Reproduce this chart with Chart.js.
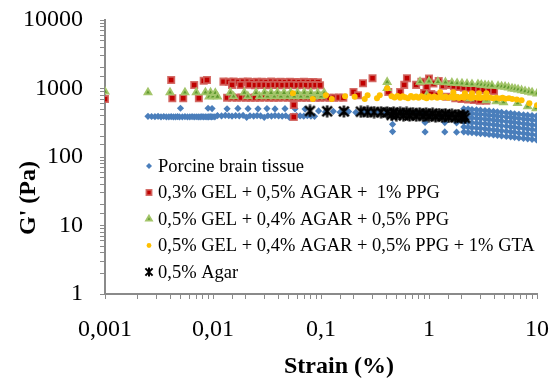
<!DOCTYPE html>
<html>
<head>
<meta charset="utf-8">
<script src="https://cdn.jsdelivr.net/npm/chart.js@4.4.1/dist/chart.umd.min.js"></script>
<style>
  html, body { margin:0; padding:0; background:#fff; }
  #wrap { width:558px; height:380px; }
</style>
</head>
<body>
<div id="wrap"><canvas id="chart" width="558" height="380"></canvas></div>
<script>
// axis ticks
const xTickValues = [0.001, 0.01, 0.1, 1, 10];
const xTickLabels = ['0,001', '0,01', '0,1', '1', '10'];
const yTickValues = [1, 10, 100, 1000, 10000];
const yTickLabels = ['1', '10', '100', '1000', '10000'];
const xTitle = 'Strain (%)';
const yTitle = "G' (Pa)";

// Porcine brain tissue
const brainStrain = [
  0.0025,0.0027,0.0029,0.0031,0.0033,0.0035,0.0037,0.0039,0.0041,0.0043,0.0045,0.0047,0.0049,0.0050,0.0052,0.0055,
  0.0058,0.0061,0.0064,0.0067,0.0070,0.0073,0.0076,0.0079,0.0082,0.0085,0.0088,0.0091,0.0094,0.0097,0.0100,0.0104,
  0.0090,0.0098,0.0135,0.0170,0.0211,0.0261,0.0316,0.0375,0.0464,0.0575,0.0712,
  0.0110,0.0120,0.0130,0.0140,0.0150,0.0162,0.0175,0.0190,0.0205,0.0220,0.0238,0.0256,0.0276,0.0298,0.0322,0.0348,
  0.0375,0.0405,0.0437,0.0472,0.0510,0.0550,0.0594,0.0641,0.0692,0.0747,0.0807,0.0871,
  0.095,0.11,0.13,0.15,0.18,0.21,0.25,0.29,0.34,0.40,0.46,0.46,0.47,0.55,0.65,0.76,0.89,0.92,0.92,1.05,1.25,1.4,1.4,1.5,1.8,1.8,
  2.1,2.3,2.5,2.75,3.0,3.3,3.6,3.95,4.3,4.7,5.2,5.7,6.2,6.8,7.5,8.2,9.0,9.9,
  2.1,2.3,2.5,2.75,3.0,3.3,3.6,3.95,4.3,4.7,5.2,5.7,6.2,6.8,7.5,8.2,9.0,9.9,
  2.1,2.3,2.5,2.75,3.0,3.3,3.6,3.95,4.3,4.7,5.2,5.7,6.2,6.8,7.5,8.2,9.0,9.9,
  2.1,2.3,2.5,2.75,3.0,3.3,3.6,3.95,4.3,4.7,5.2,5.7,6.2,6.8,7.5,8.2,9.0,9.9,
  2.1,2.3,2.5,2.75,3.0,3.3,3.6,3.95,4.3,4.7,5.2,5.7,6.2,6.8,7.5,8.2,9.0,9.9,
  2.1,2.3,2.5,2.75,3.0,3.3,3.6,3.95,4.3,4.7,5.2,5.7,6.2,6.8,7.5,8.2,9.0,9.9
];
const brainG = [
  392,390,388,392,386,390,384,386,388,384,386,388,384,515,386,388,
  384,386,388,385,387,384,386,388,385,387,384,386,388,385,387,386,
  515,510,505,512,508,505,510,503,508,505,500,
  402,398,405,400,396,402,398,404,380,400,396,402,398,380,400,396,
  402,398,394,400,380,396,402,398,394,400,396,392,
  470,455,465,450,460,448,455,445,450,440,300,235,445,440,435,430,425,320,232,420,415,318,232,410,315,230,
  505,500,494,488,482,476,470,463,456,449,442,435,428,421,414,408,402,396,
  440,435,430,425,420,414,408,402,396,390,384,378,372,366,360,354,348,342,
  380,376,372,367,362,357,352,347,342,336,330,325,319,313,307,301,295,290,
  325,321,317,313,309,305,300,296,291,286,281,276,271,266,261,256,251,246,
  275,272,268,265,261,257,253,249,245,241,237,233,229,225,221,217,213,209,
  232,229,226,223,220,217,213,210,207,203,200,197,194,190,187,184,181,178
];

// 0,3% GEL + 0,5% AGAR + 1% PPG
const redStrain = [
  0.001,0.0041,0.0042,0.0053,0.0067,0.0074,0.0082,
  0.0088,0.0125,0.0140,0.0155,0.0172,0.0190,0.0210,0.0232,0.0256,0.0283,0.0313,0.0346,0.0382,0.0422,0.0466,0.0515,0.0569,0.0629,0.0695,0.0768,0.0849,0.0938,
  0.0150,0.0180,0.0215,0.0245,0.0270,0.0300,0.0330,0.0365,0.0400,0.0440,0.0490,0.0540,0.0600,0.0660,0.0730,0.0810,0.0890,0.0980,
  0.0135,0.0150,0.0166,0.0183,0.0202,0.0223,0.0246,0.0272,0.0300,0.0331,0.0366,0.0404,0.0446,0.0492,0.0543,0.0600,0.0662,0.0731,0.0807,0.0891,0.0984,0.1087,0.120,0.132,0.146,0.161,
  0.056,0.056,
  0.20,0.22,0.245,0.30,0.42,0.54,0.59,0.625,0.76,0.85,0.95,1.0,1.1,1.23,1.35,1.5,1.56,1.7,1.9,2.1,2.35,2.6,2.9,3.2,3.6,4.0,
  0.9,1.05,1.2,1.45,1.75,2.0,2.3,2.6,2.95,3.4
];
const redG = [
  700,1330,720,720,1125,720,1300,
  1330,1260,1250,1270,1245,1255,1260,1240,1255,1250,1240,1260,1245,1250,1240,1255,1245,1240,1250,1240,1245,1235,
  1130,1125,1135,1120,1130,1125,1120,1130,1125,1120,1128,1122,1118,1125,1120,1115,1120,1115,
  735,740,732,738,735,730,736,733,738,730,735,732,737,730,734,738,731,735,730,736,733,738,730,735,740,732,
  574,384,
  890,800,1195,1415,890,890,1130,1415,1130,1250,1050,1400,1180,1290,1100,1150,1130,1080,1050,1030,1010,990,970,955,940,920,
  860,830,800,760,720,700,690,680,665,660
];

// 0,5% GEL + 0,4% AGAR + 0,5% PPG
const greenStrain = [
  0.001,0.0025,0.0040,0.0055,0.0070,0.0085,0.0092,
  0.0095,0.0100,0.0105,0.0110,0.0145,0.0155,0.0195,0.0210,0.0250,0.0270,0.0300,0.0320,0.0345,0.0370,0.0395,0.0425,
  0.0455,0.0490,0.0525,0.0565,0.0605,0.0650,0.0700,0.0750,0.0805,0.0865,0.0930,0.1000,0.1070,
  0.41,0.41,0.826,1.0,1.21,1.42,1.63,1.82,2.02,2.25,2.50,2.84,3.05,3.30,3.55,3.83,4.36,4.7,5.06,5.45,5.87,6.25,6.68,7.2,7.75,8.4,9.0,10.0,
  0.95,1.3,1.74,2.4,3.4,4.2,4.9,6.6,8.2,9.8
];
const greenG = [
  900,875,875,875,875,875,760,
  870,770,860,760,870,765,870,770,865,765,870,770,865,765,870,770,
  865,765,870,770,865,765,870,770,865,765,860,770,860,
  1240,1010,1250,1270,1250,1230,1210,1195,1185,1170,1156,1156,1135,1118,1100,1100,1083,1070,1058,1030,1000,985,967,940,913,890,874,845,
  790,770,745,710,674,650,630,610,550,515
];

// 0,5% GEL + 0,4% AGAR + 0,5% PPG + 1% GTA
const orangeStrain = [
  0.055,0.084,0.111,0.126,0.167,0.205,0.254,0.27,0.33,0.35,0.41,0.45,0.48,0.51,0.54,0.57,0.60,0.64,0.68,0.72,0.76,0.80,
  0.85,0.90,0.95,1.00,1.06,1.12,1.19,1.26,1.27,1.34,1.42,1.50,1.60,1.68,1.70,1.80,1.90,2.00,2.10,2.15,2.30,2.45,2.50,
  2.60,2.80,2.90,3.00,3.20,3.40,3.40,3.65,3.90,4.20,4.50,4.80,5.10,5.50,5.90,6.50,7.20,8.50,10.0
];
const orangeG = [
  850,700,800,700,770,755,700,800,720,800,1010,770,740,780,730,770,745,720,775,740,765,730,
  770,745,720,770,740,765,730,760,880,740,765,730,755,880,735,760,725,750,735,850,755,725,850,
  745,735,850,725,745,730,850,740,720,735,715,730,710,720,705,690,674,610,570
];

// 0,5% Agar
const agarStrain = [
  0.079,0.114,0.163,0.234,0.27,0.31,0.36,0.41,0.47,0.54,0.62,0.71,0.82,0.94,1.08,1.24,1.42,1.63,1.87,2.1,
  0.45,0.50,0.58,0.66,0.76,0.88,1.0,1.15,1.32,1.52,1.75,2.0,2.15
];
const agarG = [
  470,465,462,458,455,452,450,447,445,442,440,437,434,431,428,424,420,415,410,405,
  412,410,407,404,401,398,395,392,388,384,380,376,372
];

const seriesLabels = [
  'Porcine brain tissue',
  '0,3% GEL + 0,5% AGAR +  1% PPG',
  '0,5% GEL + 0,4% AGAR + 0,5% PPG',
  '0,5% GEL + 0,4% AGAR + 0,5% PPG + 1% GTA',
  '0,5% Agar'
];

const SERIF = '"Liberation Serif", "Times New Roman", serif';
const AXIS = '#8a8a8a';

function asterisk(size, lw){
  const c = document.createElement('canvas');
  c.width = size; c.height = size;
  const g = c.getContext('2d');
  const m = size / 2, r = size / 2 - 0.5;
  g.strokeStyle = '#000'; g.lineWidth = lw;
  g.beginPath();
  g.moveTo(m, m - r); g.lineTo(m, m + r);
  g.moveTo(m - r * 0.8, m - r * 0.8); g.lineTo(m + r * 0.8, m + r * 0.8);
  g.moveTo(m + r * 0.8, m - r * 0.8); g.lineTo(m - r * 0.8, m + r * 0.8);
  g.stroke();
  return c;
}
const starBig = asterisk(13, 2.4);
const starSmall = asterisk(10, 2);

const pts = (xs, ys) => xs.map((x, i) => ({ x, y: ys[i] }));
const tickLabel = (v, vals, labels) => {
  const i = vals.findIndex(t => Math.abs(Math.log10(v) - Math.log10(t)) < 1e-6);
  return i >= 0 ? labels[i] : '';
};

const datasets = [
  { label: seriesLabels[0], data: pts(brainStrain, brainG), pointStyle: 'rectRot', pointRadius: 3.6,
    backgroundColor: '#4a7ebb', borderColor: '#4a7ebb', borderWidth: 0, order: 5,
    legendRadius: 3 },
  { label: seriesLabels[1], data: pts(redStrain, redG), pointStyle: 'rect', pointRadius: 4.4,
    backgroundColor: '#c00000', borderColor: 'rgba(208,95,90,0.9)', borderWidth: 1.8, order: 4,
    legendRadius: 3.6 },
  { label: seriesLabels[2], data: pts(greenStrain, greenG), pointStyle: 'triangle', pointRadius: 4,
    backgroundColor: '#5e9a2e', borderColor: '#a3c56a', borderWidth: 1.8, order: 3,
    legendRadius: 3.4 },
  { label: seriesLabels[3], data: pts(orangeStrain, orangeG), pointStyle: 'circle', pointRadius: 3,
    backgroundColor: '#ffc000', borderColor: '#ffc000', borderWidth: 0, order: 2,
    legendRadius: 2.4 },
  { label: seriesLabels[4], data: pts(agarStrain, agarG), pointStyle: starBig, pointRadius: 6,
    backgroundColor: '#000', borderColor: '#000', borderWidth: 0, order: 1,
    legendStyle: starSmall, legendRadius: 5 }
];

const overlay = {
  id: 'overlay',
  afterDraw(chart){
    const { ctx, chartArea: a } = chart;
    ctx.save();
    ctx.fillStyle = '#000';
    ctx.font = 'bold 24px ' + SERIF;
    ctx.textAlign = 'center';
    ctx.textBaseline = 'alphabetic';
    ctx.fillText(xTitle, 339, 373);
    ctx.save();
    ctx.translate(35, 198);
    ctx.rotate(-Math.PI / 2);
    ctx.fillText(yTitle, 0, 0);
    ctx.restore();

    // legend inside the plot
    const lx = a.left + 44, ly = a.top + 146, step = 26.5;
    chart.data.datasets.forEach((ds, i) => {
      const y = ly + i * step;
      ctx.fillStyle = ds.backgroundColor;
      ctx.strokeStyle = ds.borderColor;
      ctx.lineWidth = ds.borderWidth;
      Chart.helpers.drawPoint(ctx, {
        pointStyle: ds.legendStyle || ds.pointStyle,
        radius: ds.legendRadius, rotation: 0, borderWidth: ds.borderWidth
      }, lx, y);
      ctx.fillStyle = '#000';
      ctx.font = '18.5px ' + SERIF;
      ctx.textAlign = 'left';
      ctx.textBaseline = 'middle';
      ctx.fillText(ds.label, lx + 9, y + 1);
    });
    ctx.restore();
  }
};

new Chart(document.getElementById('chart'), {
  type: 'scatter',
  data: { datasets },
  options: {
    responsive: false,
    animation: false,
    devicePixelRatio: 1,
    layout: { padding: { top: 20, right: 21, left: 0, bottom: 0 } },
    plugins: { legend: { display: false }, tooltip: { enabled: false } },
    scales: {
      x: {
        type: 'logarithmic', min: 0.001, max: 10,
        afterFit: s => { s.height = 86; s.paddingLeft = 0; s.paddingRight = 0; },
        grid: { drawOnChartArea: false, drawTicks: true, tickLength: 5, color: AXIS, tickColor: AXIS },
        border: { color: AXIS, width: 2 },
        ticks: { autoSkip: false, maxRotation: 0, padding: 16, color: '#000',
          font: { family: SERIF, size: 24 },
          callback: v => tickLabel(v, xTickValues, xTickLabels) }
      },
      y: {
        type: 'logarithmic', min: 1, max: 10000,
        afterFit: s => { s.width = 105; s.paddingTop = 0; s.paddingBottom = 0; },
        grid: { drawOnChartArea: false, drawTicks: true, tickLength: 5, color: AXIS, tickColor: AXIS },
        border: { color: AXIS, width: 2 },
        ticks: { autoSkip: false, padding: 17, color: '#000',
          font: { family: SERIF, size: 24 },
          callback: v => tickLabel(v, yTickValues, yTickLabels) }
      }
    }
  },
  plugins: [overlay]
});
</script>
</body>
</html>
